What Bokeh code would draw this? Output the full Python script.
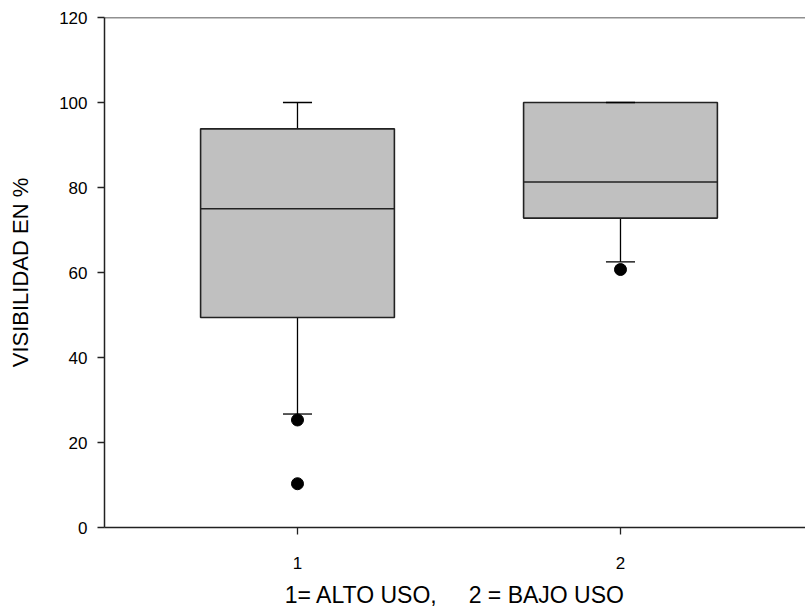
from bokeh.plotting import figure
from bokeh.models import ColumnDataSource, Range1d, Span, FixedTicker
from bokeh.embed import file_html
from bokeh.resources import INLINE

# data
groups = [1, 2]
q1 = [49.4, 72.8]
medians = [75.0, 81.3]
q3 = [93.8, 100.0]
whisk_low = [26.7, 62.5]
whisk_high = [100.0, 100.0]
out_x = [1, 1, 2]
out_y = [25.3, 10.3, 60.7]
y_ticks = [0, 20, 40, 60, 80, 100, 120]
x_ticks = [1, 2]

BOX_W = 0.6
CAP_W = 0.09
FONT = "Liberation Sans"
NB = "\u00a0"
x_title = "1= ALTO USO," + NB * 4 + " 2 = BAJO USO"
y_title = "VISIBILIDAD EN %"

src = ColumnDataSource(dict(
    x=groups, q1=q1, med=medians, q3=q3, lo=whisk_low, hi=whisk_high,
    bx0=[g - BOX_W / 2 for g in groups], bx1=[g + BOX_W / 2 for g in groups],
    cx0=[g - CAP_W / 2 for g in groups], cx1=[g + CAP_W / 2 for g in groups],
))

p = figure(width=805, height=612, output_backend="svg", toolbar_location=None,
           x_range=Range1d(0.4025, 2.5728), y_range=Range1d(0, 120),
           min_border_left=104, min_border_top=17, min_border_right=0, min_border_bottom=85)
p.outline_line_color = None
p.xgrid.visible = False
p.ygrid.visible = False
p.background_fill_color = "white"
p.border_fill_color = "white"

# whiskers
p.segment(x0="x", y0="q3", x1="x", y1="hi", source=src, line_color="black", line_width=1.3)
p.segment(x0="x", y0="q1", x1="x", y1="lo", source=src, line_color="black", line_width=1.3)
p.segment(x0="cx0", y0="lo", x1="cx1", y1="lo", source=src, line_color="black", line_width=1.3)

# boxes
p.vbar(x="x", width=BOX_W, bottom="q1", top="q3", source=src,
       fill_color="#c0c0c0", line_color="#222222", line_width=1.6)
p.segment(x0="bx0", y0="med", x1="bx1", y1="med", source=src, line_color="#222222", line_width=1.6)
# upper caps (drawn after boxes so the cap on box 2 stays visible)
p.segment(x0="cx0", y0="hi", x1="cx1", y1="hi", source=src, line_color="black", line_width=1.6)

# outliers
p.scatter(out_x, out_y, size=12, color="black")

# top frame line
p.add_layout(Span(location=120, dimension="width", line_color="#222222", line_width=1.5))

for ax in (p.xaxis[0], p.yaxis[0]):
    ax.axis_line_color = "#222222"
    ax.axis_line_width = 1.5
    ax.major_tick_line_color = "#222222"
    ax.major_tick_line_width = 1.3
    ax.major_tick_out = 7
    ax.major_tick_in = 0
    ax.minor_tick_line_color = None
    ax.major_label_text_font = FONT
    ax.major_label_text_font_size = "17px"
    ax.major_label_text_color = "black"
    ax.axis_label_text_font = FONT
    ax.axis_label_text_font_style = "normal"
    ax.axis_label_text_color = "black"

p.yaxis.ticker = FixedTicker(ticks=y_ticks)
p.xaxis.ticker = FixedTicker(ticks=x_ticks)
p.yaxis.major_label_standoff = 10
p.xaxis.major_label_standoff = 22
p.yaxis.axis_label = y_title
p.yaxis.axis_label_text_font_size = "22px"
p.yaxis.axis_label_standoff = 23
p.xaxis.axis_label = x_title
p.xaxis.axis_label_text_font_size = "23px"
p.xaxis.axis_label_standoff = 10

open("out.html", "w").write(file_html(p, INLINE))
